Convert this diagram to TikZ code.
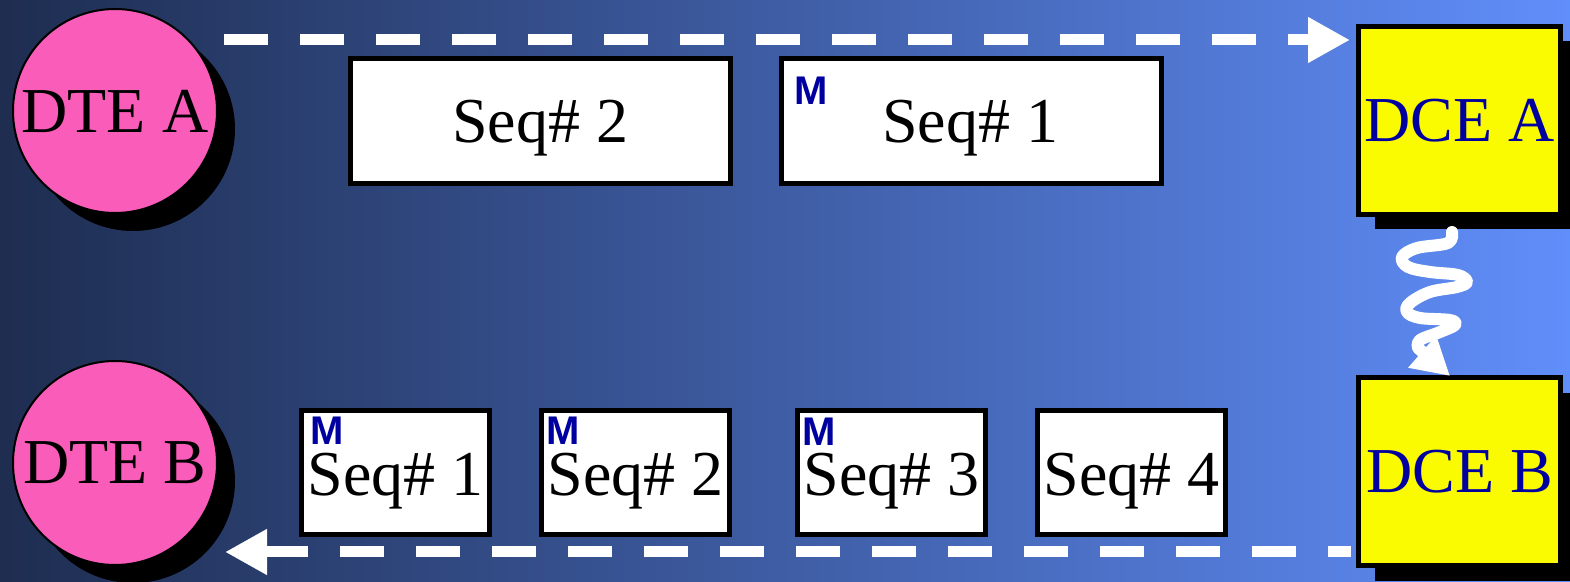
\documentclass[tikz,border=0pt]{standalone}
\usepackage{fontspec}
\setmainfont{Liberation Serif}
\newfontfamily\msans{Liberation Sans}
\usetikzlibrary{arrows.meta,shadows}
\definecolor{bgL}{RGB}{30,45,80}
\definecolor{bgR}{RGB}{96,142,250}
\definecolor{pinkc}{RGB}{250,92,186}
\definecolor{yelc}{RGB}{250,250,0}
\definecolor{mblue}{RGB}{0,0,160}
\newcommand\bigtxt{\fontsize{32}{38}\selectfont}
\newcommand\mtxt{\fontsize{20}{24}\selectfont\msans\bfseries}
\begin{document}
\begin{tikzpicture}[x=0.5pt,y=-0.5pt,
  dte/.style={circle,draw=black,line width=1pt,fill=pinkc,minimum size=102pt,inner sep=0pt,font=\bigtxt,
    drop shadow={shadow xshift=9pt,shadow yshift=-9pt,opacity=1,fill=black}},
  dce/.style={rectangle,draw=black,line width=2.5pt,fill=yelc,minimum width=101pt,minimum height=94pt,inner sep=0pt,
    font=\bigtxt,text=mblue,
    drop shadow={shadow xshift=8pt,shadow yshift=-7.5pt,opacity=1,fill=black}},
  bigbox/.style={rectangle,draw=black,line width=2.5pt,fill=white,minimum width=190pt,minimum height=62.5pt,inner sep=0pt},
  smallbox/.style={rectangle,draw=black,line width=2.5pt,fill=white,minimum width=94pt,minimum height=62pt,inner sep=0pt},
  seqtxt/.style={anchor=base,inner sep=0pt,font=\bigtxt,text=black},
  mark M/.style={inner sep=0pt,font=\mtxt,text=mblue},
  dasharrow/.style={draw=white,line width=5.5pt,dash pattern=on 22pt off 16pt},
  squig/.style={draw=white,line width=6pt,line cap=round,line join=round}
]
\clip (0,0) rectangle (1570,582);
\useasboundingbox (0,0) rectangle (1570,582);
\shade[left color=bgL,right color=bgR] (0,0) rectangle (1570,582);

% end stations
\node[dte] (dteA) at (115,111) {\raisebox{-1.5pt}{DTE A}};
\node[dte] (dteB) at (115,463) {\raisebox{-1.5pt}{DTE B}};
\node[dce] (dceA) at (1459.5,120.5) {DCE A};
\node[dce] (dceB) at (1459.5,472) {DCE B};

% top frames
\node[bigbox] (boxT2) at (540,121) {};
\node[bigbox] (boxT1) at (971.5,121) {};
\node[seqtxt] (txtT2) at (540,143) {Seq\# 2};
\node[seqtxt] (txtT1) at (970,143) {Seq\# 1};
\node[mark M] (mT1) at (811.5,91) {M};

% bottom frames
\node[smallbox] (boxB1) at (395.6,472.7) {};
\node[smallbox] (boxB2) at (635.8,472.7) {};
\node[smallbox] (boxB3) at (891.5,472.7) {};
\node[smallbox] (boxB4) at (1131.7,472.7) {};
\node[seqtxt] (txtB1) at (395.6,496) {Seq\# 1};
\node[seqtxt] (txtB2) at (635.8,496) {Seq\# 2};
\node[seqtxt] (txtB3) at (891.5,496) {Seq\# 3};
\node[seqtxt] (txtB4) at (1131.7,496) {Seq\# 4};
\node[mark M] (mB1) at (327.5,430.5) {M};
\node[mark M] (mB2) at (563,430.5) {M};
\node[mark M] (mB3) at (819.5,431.5) {M};

% dashed arrows
\coordinate (topStart) at (224,40);
\coordinate (topEnd) at (1350,40);
\coordinate (botStart) at (1351,552);
\coordinate (botEnd) at (225,552);
\draw[dasharrow,-{Triangle[length=21pt,width=21.5pt]}] (topStart) -- (topEnd);
\draw[dasharrow,{Triangle[length=21pt,width=21.5pt]}-] (botEnd) -- (botStart);

% squiggly link DCE A -> DCE B
\coordinate (sqStart) at (1452,232);
\coordinate (sqEnd) at (1450,376);
\draw[squig,-{Triangle[length=18.5pt,width=20pt]}] plot[smooth,tension=0.6] coordinates {
 (sqStart) (1448,243) (1417,248) (1402,257) (1408,267) (1430,272) (1458,275) (1467,282)
 (1457,287) (1430,292) (1410,303) (1407,312) (1420,318) (1450,320) (1455,325)
 (1440,332) (1420,340) (1418,348)} -- (sqEnd);
\end{tikzpicture}
\end{document}
